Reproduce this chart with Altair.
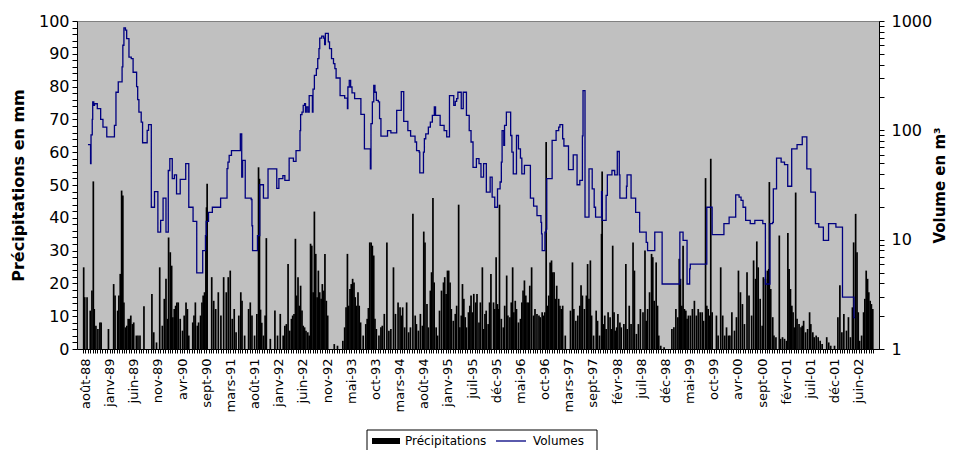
import altair as alt
import pandas as pd

# ---------------- données (jours comptés depuis le 1er août 1988) ----------------
ORIGINE = "1988-08-01"
MOIS = ['janv', 'févr', 'mars', 'avr', 'mai', 'juin', 'juil', 'août', 'sept', 'oct', 'nov', 'déc']
PAS_ETIQUETTE_JOURS = 158          # une étiquette tous les 158 jours
SERIE_P = "Précipitations"
SERIE_V = "Volumes"

# volumes (m3) : début de chaque palier (jour, volume)
volumes = [
    (17, 74), (34, 49.5), (37, 91), (45, 126), (48, 182), (55, 169), (60, 175), (78, 158), (100, 126),
    (115, 107), (140, 87), (190, 111), (200, 223), (215, 277), (240, 380), (245, 600), (252, 865),
    (262, 824), (270, 689), (285, 468), (300, 452), (312, 340), (335, 251), (342, 191), (350, 147),
    (365, 119), (374, 77), (404, 100), (413, 113), (431, 19.8), (452, 27.5), (474, 11.7), (492, 15.0),
    (508, 24.0), (527, 11.7), (542, 42.9), (552, 55.0), (568, 36.1), (582, 39.2), (596, 26.2),
    (620, 35.6), (656, 49.5), (676, 19.8), (704, 14.7), (728, 4.97), (767, 7.94), (785, 10.9),
    (790, 14.7), (805, 17.8), (830, 19.8), (884, 24.0), (926, 44.7), (932, 51.3), (940, 58.9),
    (955, 65.3), (1013, 92.9), (1022, 37.3), (1028, 53.1), (1045, 24.0), (1084, 23.3), (1089, 13.4),
    (1093, 7.94), (1125, 10.9), (1140, 31.8), (1164, 24.0), (1194, 44.4), (1251, 29.5), (1265, 36.1),
    (1291, 38.6), (1304, 34.8), (1332, 55.7), (1360, 52.0), (1377, 65.3), (1403, 99.5), (1407, 139),
    (1416, 147), (1424, 169), (1433, 175), (1439, 147), (1444, 164), (1454, 147), (1463, 208),
    (1484, 147), (1488, 238), (1497, 318), (1510, 367), (1519, 452), (1527, 560), (1532, 698),
    (1545, 728), (1558, 698), (1564, 608), (1569, 769), (1588, 643), (1596, 560), (1609, 452),
    (1622, 407), (1631, 367), (1639, 301), (1665, 208), (1695, 197), (1713, 158), (1716, 249),
    (1725, 286), (1734, 249), (1743, 220), (1760, 195), (1801, 140), (1824, 67.6), (1863, 44.4),
    (1867, 115), (1876, 182), (1885, 258), (1893, 223), (1902, 188), (1915, 182), (1923, 128),
    (1932, 88.5), (1975, 99.5), (1997, 94.8), (2035, 152), (2065, 226), (2081, 121), (2108, 99.5),
    (2126, 88.5), (2155, 78.2), (2165, 65.3), (2182, 63.1), (2186, 40.8), (2210, 63.1), (2216, 83.8),
    (2225, 92.9), (2242, 107), (2255, 119), (2268, 137), (2281, 164), (2289, 137), (2319, 111),
    (2345, 99.5), (2362, 87), (2380, 208), (2408, 169), (2418, 184), (2427, 195), (2435, 223),
    (2457, 158), (2470, 223), (2491, 137), (2509, 99.5), (2521, 78.2), (2534, 45.9), (2556, 55.0),
    (2573, 49.5), (2586, 37.3), (2603, 49.5), (2621, 27.2), (2646, 37.3), (2659, 24.5), (2676, 19.8),
    (2694, 29.1), (2711, 33.7), (2719, 51.3), (2724, 99.5), (2735, 72.9), (2740, 111), (2752, 147),
    (2780, 89.7), (2788, 63.1), (2797, 40.0), (2818, 89.7), (2831, 67.6), (2844, 55.7), (2853, 40.0),
    (2870, 47.9), (2909, 24.0), (2930, 20.3), (2952, 16.6), (2978, 14.4), (2982, 11.3), (2986, 7.94),
    (3004, 11.7), (3012, 12.5), (3016, 36.1), (3051, 80.9), (3077, 99.5), (3094, 107), (3102, 113),
    (3120, 83.8), (3128, 71.9), (3158, 43.8), (3189, 59.7), (3214, 31.8), (3232, 34.8), (3249, 89),
    (3253, 231), (3266, 16.1), (3292, 44.4), (3313, 29.1), (3326, 19.8), (3335, 16.1), (3374, 27.5),
    (3378, 15.0), (3404, 25.4), (3412, 39.2), (3442, 42.9), (3460, 39.2), (3477, 64.0), (3490, 39.2),
    (3494, 24.0), (3537, 30.8), (3541, 39.2), (3567, 24.0), (3597, 17.8), (3623, 11.7), (3666, 9.44),
    (3675, 7.94), (3722, 11.7), (3770, 3.93), (3886, 11.7), (3907, 9.84), (3933, 3.93), (3950, 5.40),
    (3954, 5.98), (4062, 19.8), (4097, 11.1), (4174, 14.0), (4208, 16.1), (4251, 25.7), (4273, 24.5),
    (4286, 22.9), (4299, 19.8), (4316, 15.0), (4346, 14.0), (4376, 15.0), (4428, 14.0), (4445, 3.93),
    (4475, 14.0), (4492, 14.4), (4497, 29.1), (4518, 55.7), (4548, 51.3), (4570, 48.5), (4591, 30.8),
    (4617, 67.6), (4652, 74), (4686, 87), (4716, 44.4), (4742, 27.2), (4772, 14.0), (4794, 13.0),
    (4824, 9.84), (4858, 14.0), (4906, 13.0), (4949, 2.98), (5024, 1.94), (5032, 1.94),
]

# précipitations journalières (jour, mm)
precip_1988_1991 = [
    (-11, 24.9), (-4, 15.8), (11, 15.8), (32, 11.7), (43, 17.8), (52, 51.1), (58, 12.2), (69, 7.1),
    (82, 6.1), (95, 8.1), (103, 8.1), (151, 6.1), (185, 19.8), (194, 16.3), (211, 11.7), (219, 16.3),
    (228, 22.9), (237, 48.3), (245, 46.8), (252, 14.2), (262, 6.6), (271, 7.1), (280, 9.2), (290, 9.2),
    (297, 10.2), (308, 7.6), (316, 8.1), (333, 4.1), (344, 4.1), (357, 4.1), (383, 13.0), (435, 16.8),
    (447, 5.1), (465, 2.0), (486, 24.9), (503, 7.1), (516, 15.3), (527, 21.4), (538, 9.2), (544, 34.0),
    (555, 29.5), (564, 25.4), (572, 9.7), (581, 12.2), (590, 13.2), (598, 14.2), (607, 14.2), (620, 9.2),
    (635, 5.6), (646, 10.2), (658, 14.2), (667, 12.2), (676, 4.1), (702, 8.1), (710, 10.2), (719, 14.2),
    (732, 7.1), (740, 8.1), (753, 10.2), (762, 14.2), (770, 16.3), (779, 17.3), (788, 34.6), (792, 43.2),
    (796, 50.4), (826, 21.9), (839, 14.7), (852, 12.2), (869, 17.3), (886, 10.2), (904, 21.9), (921, 17.3),
    (934, 21.9), (947, 23.9), (960, 9.2), (973, 12.2), (985, 5.1), (1003, 10.2), (1016, 17.3), (1024, 14.7),
]
precip_1991_1994 = [
    (1041, 4.1), (1067, 12.2), (1078, 14.2), (1089, 10.2), (1106, 4.1), (1121, 10.7), (1132, 55.4),
    (1138, 51.9), (1145, 12.0), (1153, 8.0), (1164, 4.1), (1175, 10.2), (1183, 33.8), (1209, 3.1),
    (1239, 11.7), (1256, 4.1), (1274, 10.7), (1293, 4.1), (1304, 7.1), (1314, 7.6), (1325, 25.9),
    (1336, 5.6), (1347, 9.2), (1355, 10.2), (1364, 10.7), (1373, 33.6), (1381, 16.3), (1390, 21.9),
    (1398, 13.2), (1407, 19.3), (1416, 11.7), (1424, 7.1), (1433, 6.6), (1442, 5.6), (1454, 5.1),
    (1463, 4.1), (1472, 32.1), (1480, 31.5), (1489, 17.3), (1497, 41.9), (1506, 29.0), (1515, 15.8),
    (1523, 23.9), (1532, 17.3), (1541, 15.3), (1549, 19.8), (1558, 17.8), (1566, 29.0), (1575, 14.7),
    (1584, 10.2), (1627, 1.5), (1648, 1.0), (1683, 2.5), (1695, 6.6), (1704, 12.7), (1713, 29.0),
    (1721, 13.2), (1730, 18.3), (1738, 19.8), (1747, 21.4), (1756, 20.3), (1764, 15.8), (1773, 13.2),
    (1782, 17.3), (1790, 13.2), (1799, 8.1), (1816, 4.1), (1833, 7.6), (1842, 9.2), (1850, 12.5),
    (1859, 32.5), (1868, 32.5), (1876, 31.5), (1885, 28.5), (1893, 9.2), (1902, 6.1), (1919, 4.1),
    (1932, 6.6), (1941, 7.1), (1954, 10.7), (1971, 32.5), (1984, 5.6), (1997, 6.1), (2014, 24.9),
    (2027, 10.7), (2044, 14.2), (2057, 12.7), (2066, 10.2), (2074, 12.7),
]
precip_1994_1997 = [
    (2087, 6.6), (2100, 14.2), (2113, 5.1), (2125, 6.6), (2141, 41.2), (2156, 10.2), (2164, 7.6),
    (2177, 5.6), (2190, 10.7), (2203, 7.1), (2212, 35.8), (2220, 32.5), (2233, 13.7), (2242, 6.6),
    (2255, 17.8), (2263, 23.4), (2272, 46.0), (2280, 20.3), (2293, 6.6), (2302, 4.1), (2315, 11.7),
    (2328, 17.8), (2341, 20.3), (2349, 21.9), (2358, 16.8), (2367, 23.9), (2375, 23.9), (2384, 20.3),
    (2392, 12.2), (2405, 8.6), (2418, 10.7), (2427, 13.2), (2440, 44.0), (2448, 6.6), (2457, 10.2),
    (2465, 19.8), (2474, 15.3), (2483, 9.7), (2491, 6.6), (2504, 11.2), (2513, 13.2), (2521, 16.3),
    (2530, 11.2), (2539, 16.8), (2552, 14.2), (2560, 16.8), (2573, 8.1), (2582, 14.2), (2595, 24.9),
    (2603, 6.1), (2612, 10.7), (2620, 11.7), (2633, 7.6), (2642, 14.2), (2651, 22.9), (2668, 14.2),
    (2676, 12.2), (2685, 28.0), (2694, 13.7), (2702, 12.2), (2707, 44.0), (2719, 9.2), (2732, 6.6),
    (2741, 13.2), (2754, 22.4), (2762, 10.2), (2775, 9.7), (2784, 14.2), (2793, 24.9), (2801, 11.2),
    (2810, 14.7), (2818, 12.2), (2831, 8.1), (2844, 9.2), (2853, 14.2), (2861, 17.8), (2870, 20.9),
    (2879, 16.3), (2887, 14.2), (2896, 14.2), (2905, 19.3), (2917, 24.9), (2930, 10.2), (2939, 12.2),
    (2952, 10.7), (2965, 10.2), (2973, 9.7), (2986, 11.2), (2995, 10.2), (3003, 11.2), (3012, 63.1),
    (3021, 13.2), (3029, 16.3), (3038, 26.4), (3047, 27.0), (3055, 23.4), (3064, 23.4), (3072, 15.3),
    (3081, 19.3), (3094, 15.3), (3102, 13.2), (3111, 12.2), (3120, 13.2),
]
precip_1997_2000 = [
    (3137, 4.1), (3171, 11.7), (3184, 26.4), (3193, 12.2), (3206, 8.6), (3219, 10.2), (3232, 13.2),
    (3240, 19.4), (3249, 16.3), (3262, 12.2), (3275, 16.3), (3283, 25.9), (3292, 15.3), (3301, 27.0),
    (3309, 10.2), (3322, 4.1), (3339, 11.7), (3348, 8.6), (3361, 4.1), (3374, 35.1), (3378, 54.1),
    (3387, 7.6), (3395, 10.2), (3404, 6.1), (3417, 11.2), (3430, 9.7), (3438, 6.1), (3447, 31.5),
    (3456, 11.2), (3464, 5.6), (3473, 6.6), (3481, 10.7), (3494, 8.1), (3503, 6.6), (3520, 7.6),
    (3533, 25.9), (3542, 6.1), (3555, 13.2), (3567, 7.6), (3580, 32.5), (3589, 23.9), (3602, 4.6),
    (3615, 7.6), (3628, 12.2), (3645, 11.2), (3658, 30.0), (3666, 8.6), (3675, 12.2), (3688, 17.3),
    (3701, 29.0), (3709, 28.0), (3718, 14.7), (3731, 26.4), (3740, 13.2), (3748, 4.1), (3761, 1.0),
    (3783, 0.5), (3834, 6.1), (3847, 6.6), (3860, 12.2), (3873, 9.7), (3882, 27.5), (3890, 21.4),
    (3899, 13.2), (3907, 31.5), (3916, 12.2), (3925, 11.7), (3933, 9.2), (3942, 10.2), (3955, 10.2),
    (3968, 12.2), (3981, 14.7), (3994, 10.2), (4006, 12.2), (4019, 11.2), (4032, 11.2), (4041, 8.6),
    (4054, 52.1), (4062, 13.2), (4071, 12.2), (4080, 10.2), (4088, 58.0), (4097, 11.2),
]
precip_2000_2002 = [
    (4125, 10.2), (4136, 4.1), (4153, 24.9), (4166, 10.2), (4179, 4.1), (4191, 6.6), (4204, 4.1),
    (4213, 4.1), (4226, 11.2), (4243, 5.6), (4256, 9.7), (4269, 23.9), (4282, 17.3), (4295, 13.7),
    (4308, 7.6), (4325, 23.4), (4338, 16.3), (4355, 10.2), (4368, 27.0), (4381, 21.4), (4389, 32.8),
    (4398, 24.9), (4411, 15.3), (4424, 7.1), (4432, 21.9), (4445, 21.4), (4458, 23.9), (4467, 24.4),
    (4471, 50.9), (4480, 18.3), (4493, 9.7), (4501, 4.1), (4514, 3.6), (4536, 34.6), (4544, 3.1),
    (4557, 3.6), (4570, 3.1), (4583, 2.5), (4592, 35.4), (4600, 24.4), (4609, 18.3), (4618, 13.2),
    (4626, 11.2), (4635, 6.6), (4643, 47.7), (4652, 9.2), (4665, 7.6), (4678, 6.6), (4686, 7.1),
    (4695, 8.6), (4708, 5.1), (4721, 6.1), (4734, 11.2), (4742, 7.6), (4755, 5.1), (4764, 3.6),
    (4777, 4.1), (4790, 3.6), (4803, 2.5), (4816, 1.5), (4846, 3.6), (4859, 2.0), (4872, 1.0),
    (4897, 1.0), (4919, 9.7), (4932, 19.4), (4945, 5.1), (4958, 10.7), (4975, 5.6), (4988, 9.7),
    (5001, 3.6), (5014, 12.7), (5022, 32.5), (5035, 41.2), (5044, 29.5), (5052, 11.2), (5061, 2.5),
    (5074, 4.1), (5087, 11.2), (5095, 15.3), (5104, 23.9), (5113, 21.4), (5121, 17.3), (5130, 14.7),
    (5138, 13.7), (5147, 12.2),
]

# étendue de l'axe des dates (jours depuis l'origine)
DEBUT_AXE, FIN_AXE = -22, 5155

# ---------------- construction ----------------
origine = pd.Timestamp(ORIGINE)
MS_JOUR = 86400000


def ms(jour):
    return int(origine.value // 10**6 + round(jour * MS_JOUR))


precip = (precip_1988_1991 + precip_1991_1994 + precip_1994_1997
          + precip_1997_2000 + precip_2000_2002)
df_p = pd.DataFrame({
    "t": [ms(j) for j, _ in precip],
    "mm": [v for _, v in precip],
    "serie_p": SERIE_P,
})
df_v = pd.DataFrame({
    "t": [ms(j) for j, _ in volumes],
    "v": [v for _, v in volumes],
    "serie_v": SERIE_V,
})

T0 = ms(0)
PAS_TICK = PAS_ETIQUETTE_JOURS / 10.0
ticks_x = [ms(k * PAS_TICK) for k in range(-1, int(FIN_AXE / PAS_TICK) + 1)]
mois_js = "[" + ",".join("'" + m + "'" for m in MOIS) + "]"
label_x = (f"(round((datum.value - {T0}) / {int(PAS_TICK * MS_JOUR)}) % 10 == 0) ? "
           f"{mois_js}[utcmonth(datum.value)] + '-' + utcFormat(datum.value, '%y') : ''")

FONT = "DejaVu Sans"

x_enc = alt.X(
    "t:T",
    scale=alt.Scale(domain=[ms(DEBUT_AXE), ms(FIN_AXE)]),
    axis=alt.Axis(values=ticks_x, labelExpr=label_x, labelAngle=270, labelFontSize=13,
                  labelPadding=5, tickSize=4, labelOverlap=False, labelFlush=False,
                  labelBound=False, title=None, grid=False),
)

barres = alt.Chart(df_p).mark_bar(size=1.7).encode(
    x=x_enc,
    y=alt.Y("mm:Q", scale=alt.Scale(domain=[0, 100]),
            axis=alt.Axis(values=list(range(0, 101, 2)),
                          labelExpr="datum.value % 10 == 0 ? datum.label : ''",
                          title="Précipitations en mm", titleFontSize=16, titleFontWeight="bold",
                          labelFontSize=16, tickSize=5, labelPadding=3, titlePadding=12, grid=False)),
    fill=alt.Fill("serie_p:N", scale=alt.Scale(domain=[SERIE_P], range=["#000000"]),
                  legend=alt.Legend(title=None, orient="none", legendX=295, legendY=414,
                                    symbolType="M-1,-0.5H3.667V0.5H-1Z", symbolSize=144,
                                    symbolStrokeWidth=0, labelFontSize=12, labelOffset=21,
                                    padding=0)),
)

ligne = alt.Chart(df_v).mark_line(interpolate="step-after", strokeWidth=1.3).encode(
    x=x_enc,
    y=alt.Y("v:Q", scale=alt.Scale(type="log", domain=[1, 1000]),
            axis=alt.Axis(orient="right",
                          values=[1, 2, 3, 4, 5, 6, 7, 8, 9, 10, 20, 30, 40, 50, 60, 70, 80, 90,
                                  100, 200, 300, 400, 500, 600, 700, 800, 900, 1000],
                          labelExpr="indexof([1, 10, 100, 1000], datum.value) >= 0 ? datum.label : ''",
                          format="d", title="Volume en m³", titleFontSize=15, titleFontWeight="bold",
                          titleAngle=270, labelFontSize=16, tickSize=5, labelPadding=7,
                          titlePadding=16, grid=False)),
    stroke=alt.Stroke("serie_v:N", scale=alt.Scale(domain=[SERIE_V], range=["#000080"]),
                      legend=alt.Legend(title=None, orient="none", legendX=416, legendY=414,
                                        symbolType="M-1,0H9", symbolSize=36, symbolStrokeWidth=1.3,
                                        labelFontSize=12, labelOffset=28, padding=0)),
)

# cadre de la légende (décor, en pixels de la zone de tracé)
cadre = alt.Chart(pd.DataFrame({"c": [0]})).mark_rect(
    fill="#FFFFFF", stroke="#000000", strokeWidth=1
).encode(x=alt.value(290), x2=alt.value(520), y=alt.value(409), y2=alt.value(445))

chart = (
    alt.layer(barres, ligne, cadre)
    .resolve_scale(y="independent")
    .properties(width=802, height=328,
                autosize=alt.AutoSizeParams(type="none"),
                padding={"left": 69, "top": 13, "right": 69, "bottom": 101})
    .configure(background="#FFFFFF")
    .configure_view(fill="#C0C0C0", stroke="#808080", strokeWidth=1)
    .configure_axis(domainColor="#000000", tickColor="#000000", labelColor="#000000",
                    titleColor="#000000", labelFont=FONT, titleFont=FONT)
    .configure_legend(labelFont=FONT, labelColor="#000000")
)

chart.save("out.html", embed_options={"renderer": "svg", "actions": False})
